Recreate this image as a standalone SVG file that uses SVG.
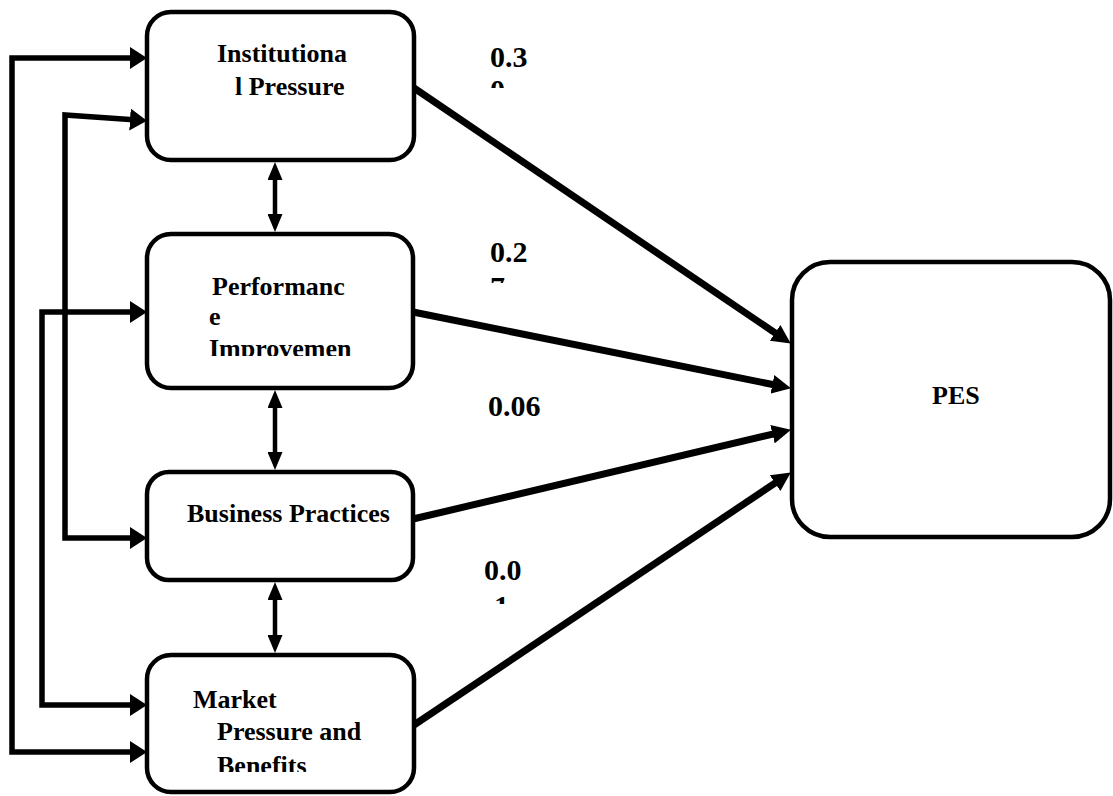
<svg xmlns="http://www.w3.org/2000/svg" width="1113" height="796" viewBox="0 0 1113 796">
<style>
.box{fill:#fff;stroke:#000;stroke-width:4.5}
.t{font-family:"Liberation Serif","Times New Roman",serif;font-weight:bold;font-size:26px;fill:#000}
.lbl{font-family:"Liberation Serif","Times New Roman",serif;font-weight:bold;font-size:30px;fill:#000}
.main{fill:none;stroke:#000;stroke-width:7;marker-end:url(#ah)}
.side{fill:none;stroke:#000;stroke-width:5.5;marker-start:url(#ahs);marker-end:url(#ahs)}
.dbl{fill:none;stroke:#000;stroke-width:4.5;marker-start:url(#ahv);marker-end:url(#ahv)}
</style>
<defs>
<marker id="ah" markerUnits="userSpaceOnUse" markerWidth="19" markerHeight="19" refX="8" refY="9.5" orient="auto"><path d="M0,0 L19,9.5 L0,19 z" fill="#000"/></marker>
<marker id="ahs" markerUnits="userSpaceOnUse" markerWidth="17" markerHeight="22" refX="7" refY="11" orient="auto-start-reverse"><path d="M0,0 L17,11 L0,22 z" fill="#000"/></marker>
<marker id="ahv" markerUnits="userSpaceOnUse" markerWidth="18" markerHeight="15" refX="8" refY="7.5" orient="auto-start-reverse"><path d="M0,0 L18,7.5 L0,15 z" fill="#000"/></marker>
<clipPath id="c1"><rect x="400" y="60" width="200" height="28"/></clipPath>
<clipPath id="c2"><rect x="400" y="265" width="200" height="18"/></clipPath>
<clipPath id="c3"><rect x="400" y="585" width="200" height="19"/></clipPath>
<clipPath id="c4"><rect x="150" y="330" width="260" height="26"/></clipPath>
<clipPath id="c5"><rect x="150" y="745" width="260" height="27"/></clipPath>
</defs>

<g id="connectors">
<path class="main" d="M414,88 L781.7,337.4"/>
<path class="main" d="M413,312 L780.2,386"/>
<path class="main" d="M413,519 L780.3,432.3"/>
<path class="main" d="M414,725 L781.7,478.6"/>
<path class="side" d="M137,58 L12,58 L12,752 L137,752"/>
<path class="side" d="M137,120 L65,115 L65,538 L137,538"/>
<path class="side" d="M137,312 L42,312 L42,705 L137,705"/>
<path class="dbl" d="M275,172 L275,222"/>
<path class="dbl" d="M275,400 L275,460"/>
<path class="dbl" d="M275,592 L275,643"/>
</g>

<g id="institutional">
<rect class="box" x="147" y="12" width="267" height="148" rx="24"/>
<text class="t" x="217" y="62">Institutiona</text>
<text class="t" x="235" y="95">l Pressure</text>
</g>
<g id="performance">
<rect class="box" x="147" y="234" width="266" height="154" rx="24"/>
<text class="t" x="212" y="295">Performanc</text>
<text class="t" x="209" y="325">e</text>
<text class="t" x="209" y="357" clip-path="url(#c4)">Improvemen</text>
</g>
<g id="business">
<rect class="box" x="147" y="472" width="266" height="108" rx="22"/>
<text class="t" x="187" y="522">Business Practices</text>
</g>
<g id="market">
<rect class="box" x="147" y="655" width="267" height="137" rx="24"/>
<text class="t" x="193" y="708">Market</text>
<text class="t" x="217" y="740">Pressure and</text>
<text class="t" x="217" y="774" clip-path="url(#c5)">Benefits</text>
</g>
<g id="pes">
<rect class="box" x="792" y="262" width="318" height="275" rx="38"/>
<text class="t" x="932" y="404">PES</text>
</g>
<g id="labels">
<text class="lbl" x="490" y="67">0.3</text>
<text class="lbl" x="490" y="100" clip-path="url(#c1)">0</text>
<text class="lbl" x="490" y="262">0.2</text>
<text class="lbl" x="490" y="297" clip-path="url(#c2)">7</text>
<text class="lbl" x="488" y="416">0.06</text>
<text class="lbl" x="484" y="580">0.0</text>
<text class="lbl" x="494" y="616" clip-path="url(#c3)">1</text>
</g>
</svg>
